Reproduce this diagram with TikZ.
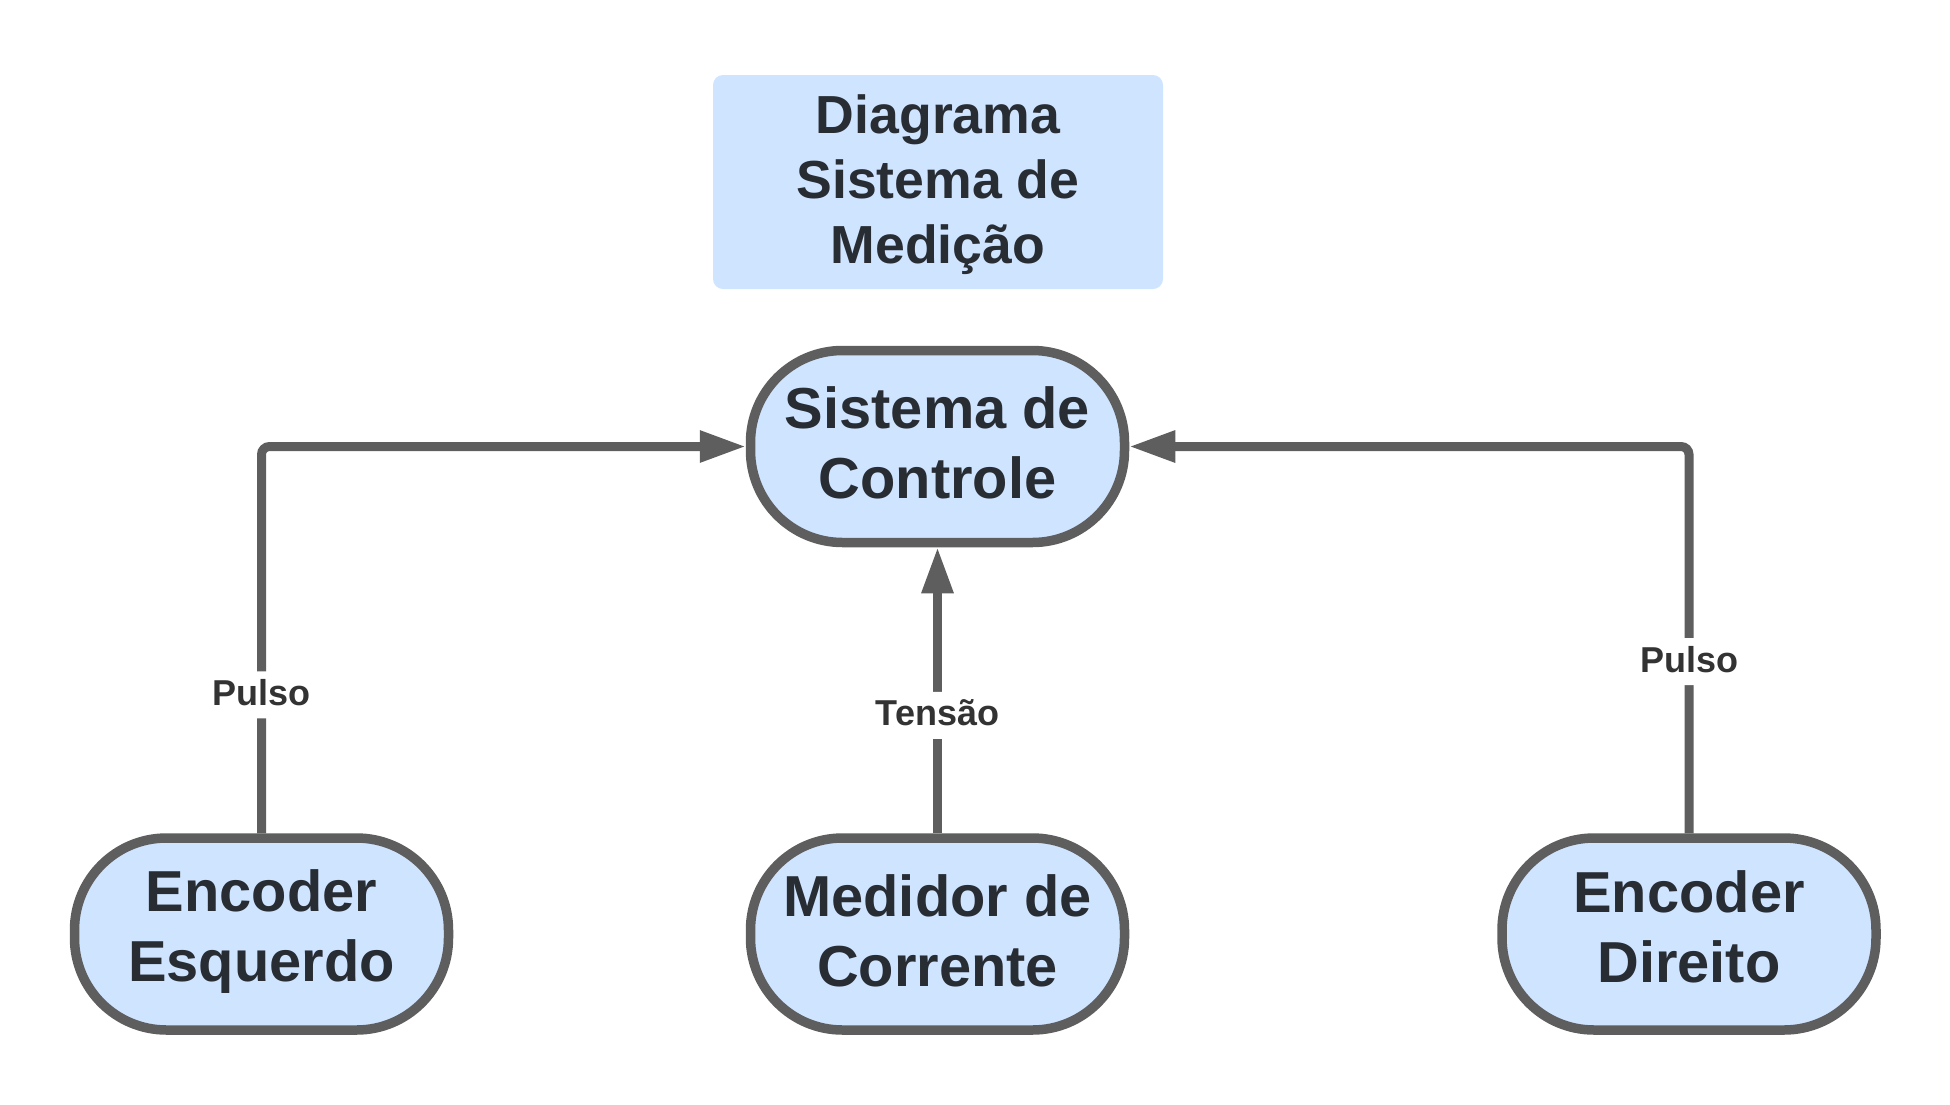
\documentclass[tikz,border=0pt]{standalone}
\usepackage{fontspec}
\setmainfont{Liberation Sans}
\usetikzlibrary{arrows.meta}
\definecolor{bord}{HTML}{5E5E5E}
\definecolor{fillb}{HTML}{CFE4FF}
\definecolor{txt}{HTML}{282C33}
\definecolor{lbltxt}{HTML}{333333}
\begin{document}
\begin{tikzpicture}[x=0.5pt,y=-0.5pt,
  term/.style={draw=bord, fill=fillb, line width=4.75pt, rounded corners=46pt,
    minimum width=187pt, minimum height=96pt, inner sep=0pt, align=center,
    text=txt, font=\bfseries\fontsize{28.9}{34.75}\selectfont,
    text height=#1, text depth=0pt},
  term/.default=50pt,
  titlebox/.style={fill=fillb, rounded corners=5pt, minimum width=225pt,
    minimum height=107pt, inner sep=0pt, align=center, text=txt,
    font=\bfseries\fontsize{26.8}{32.5}\selectfont,
    text height=81pt, text depth=0pt},
  conn/.style={draw=bord, line width=4.5pt, -{Triangle[length=23pt,width=15pt]},
    rounded corners=4pt},
  lbl/.style={fill=white, text=lbltxt, font=\bfseries\fontsize{18}{21.6}\selectfont,
    text height=13pt, text depth=2.5pt, inner xsep=2pt, inner ysep=4pt}
]
\path[use as bounding box] (0,0) rectangle (1950,1104);
\node[titlebox] (title) at (938,182) {Diagrama\\Sistema de\\Medição};
\node[term=51.5pt] (sis) at (937.5,446.5) {Sistema de\\Controle};
\node[term=47pt] (encE) at (261.5,934) {Encoder\\Esquerdo};
\node[term=52pt] (med) at (937.5,934) {Medidor de\\Corrente};
\node[term=48pt] (encD) at (1689,934) {Encoder\\Direito};
\draw[conn] (encE.north) |- node[lbl,pos=0.179] {Pulso} (sis.west);
\draw[conn] (med.north) -- node[lbl,pos=0.412] {Tensão} (sis.south);
\draw[conn] (encD.north) |- node[lbl,pos=0.222] {Pulso} (sis.east);
\end{tikzpicture}
\end{document}
